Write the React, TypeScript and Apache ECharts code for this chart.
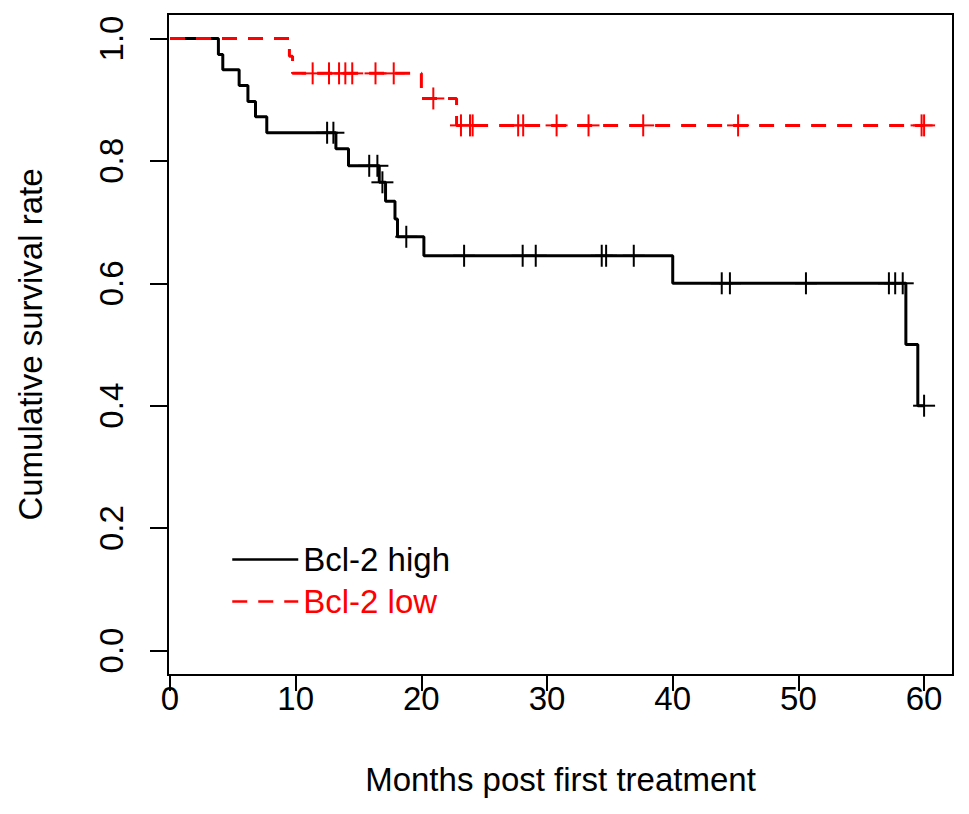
import React, { useEffect, useRef } from "react";
import * as echarts from "echarts";

// Kaplan–Meier step curves: time (months) and survival after each step
const highTimes = [0, 3.85, 4.2, 5.5, 6.2, 6.8, 7.7, 13.2, 14.2, 16.65, 17.15, 17.9, 18.1, 20.2, 40.0, 58.55, 59.5, 60.0];
const highSurv = [1, 0.974, 0.949, 0.923, 0.897, 0.872, 0.846, 0.82, 0.792, 0.765, 0.734, 0.705, 0.676, 0.645, 0.6, 0.5, 0.4, 0.4];
const highCensorTimes = [12.5, 13.0, 15.85, 16.5, 16.9, 18.8, 23.4, 28.06, 29.1, 34.35, 34.7, 36.9, 43.9, 44.55, 50.6, 57.2, 57.7, 58.3, 60.0];
const highCensorSurv = [0.846, 0.846, 0.792, 0.792, 0.765, 0.676, 0.645, 0.645, 0.645, 0.645, 0.645, 0.645, 0.6, 0.6, 0.6, 0.6, 0.6, 0.6, 0.4];

const lowTimes = [0, 9.5, 9.75, 20.0, 22.8, 60.0];
const lowSurv = [1, 0.971, 0.943, 0.902, 0.858, 0.858];
const lowCensorTimes = [11.35, 12.65, 13.45, 13.95, 14.5, 16.35, 17.8, 20.95, 23.15, 23.87, 24.08, 27.7, 28.1, 30.76, 33.3, 37.65, 45.2, 59.8, 60.0];
const lowCensorSurv = [0.943, 0.943, 0.943, 0.943, 0.943, 0.943, 0.943, 0.902, 0.858, 0.858, 0.858, 0.858, 0.858, 0.858, 0.858, 0.858, 0.858, 0.858, 0.858];

const xTicks = [0, 10, 20, 30, 40, 50, 60];
const yTicks = [0, 0.2, 0.4, 0.6, 0.8, 1.0];

const seriesNames = ["Bcl-2 high", "Bcl-2 low"];
const xTitle = "Months post first treatment";
const yTitle = "Cumulative survival rate";

const FONT = "'Liberation Sans', Arial, Helvetica, sans-serif";
const BLACK = "#000000";
const RED = "#ff0000";

function zip(a: number[], b: number[]) {
  return a.map((v, i) => [v, b[i]]);
}

function censorSeries(name: string, data: number[][], color: string) {
  return {
    name,
    type: "custom",
    data,
    encode: { x: 0, y: 1 },
    silent: true,
    z: 3,
    renderItem: (params: any, api: any) => {
      const p = api.coord([api.value(0), api.value(1)]);
      const h = 11;
      const style = { stroke: color, lineWidth: 2 };
      return {
        type: "group",
        children: [
          { type: "line", shape: { x1: p[0] - h, y1: p[1], x2: p[0] + h, y2: p[1] }, style },
          { type: "line", shape: { x1: p[0], y1: p[1] - h, x2: p[0], y2: p[1] + h }, style },
        ],
      };
    },
  };
}

export default function App() {
  const ref = useRef<HTMLDivElement>(null);

  useEffect(() => {
    if (!ref.current) return;
    const chart = echarts.init(ref.current, undefined, { renderer: "svg" });
    chart.setOption({
      animation: false,
      backgroundColor: "#ffffff",
      grid: {
        left: 168,
        right: 16,
        top: 14,
        bottom: 139,
        show: true,
        borderColor: BLACK,
        borderWidth: 2,
        backgroundColor: "transparent",
      },
      legend: {
        orient: "vertical",
        left: 226,
        top: 538,
        itemWidth: 66,
        itemHeight: 20,
        itemGap: 9,
        selectedMode: false,
        itemStyle: { opacity: 0 },
        lineStyle: { width: 2.5 },
        textStyle: { fontFamily: FONT, fontSize: 33, color: BLACK, padding: [0, 0, 0, 0] },
        data: [
          { name: seriesNames[0], textStyle: { color: BLACK } },
          { name: seriesNames[1], textStyle: { color: RED } },
        ],
      },
      xAxis: {
        type: "value",
        min: -0.16,
        max: 62.3,
        name: xTitle,
        nameLocation: "middle",
        nameGap: 88,
        nameTextStyle: { fontFamily: FONT, fontSize: 33, color: BLACK },
        axisLine: { show: false, onZero: false },
        splitLine: { show: false },
        axisTick: {
          show: true,
          inside: false,
          length: 16,
          customValues: xTicks,
          lineStyle: { color: BLACK, width: 2 },
        },
        axisLabel: {
          customValues: xTicks,
          fontFamily: FONT,
          fontSize: 33,
          color: BLACK,
          margin: 7,
          formatter: (v: number) => String(Math.round(v)),
        },
      },
      yAxis: {
        type: "value",
        min: -0.04,
        max: 1.04,
        name: yTitle,
        nameLocation: "middle",
        nameRotate: 90,
        nameGap: 121,
        nameTextStyle: { fontFamily: FONT, fontSize: 33, color: BLACK },
        axisLine: { show: false, onZero: false },
        splitLine: { show: false },
        axisTick: {
          show: true,
          inside: false,
          length: 18,
          customValues: yTicks,
          lineStyle: { color: BLACK, width: 2 },
        },
        axisLabel: {
          customValues: yTicks,
          rotate: 90,
          fontFamily: FONT,
          fontSize: 33,
          color: BLACK,
          margin: 40,
          formatter: (v: number) => v.toFixed(1),
        },
      },
      series: [
        {
          name: seriesNames[0],
          type: "line",
          step: "end",
          data: zip(highTimes, highSurv),
          symbol: "none",
          lineStyle: { color: BLACK, width: 3 },
          itemStyle: { color: BLACK },
          z: 2,
        },
        censorSeries("high-censor", zip(highCensorTimes, highCensorSurv), BLACK),
        {
          name: seriesNames[1],
          type: "line",
          step: "end",
          data: zip(lowTimes, lowSurv),
          symbol: "none",
          lineStyle: { color: RED, width: 3, type: [15, 11] },
          itemStyle: { color: RED },
          z: 4,
        },
        censorSeries("low-censor", zip(lowCensorTimes, lowCensorSurv), RED),
      ],
    });
    return () => chart.dispose();
  }, []);

  return (
    <div
      ref={ref}
      style={{ position: "fixed", left: 0, top: 0, width: 969, height: 814, background: "#fff" }}
    />
  );
}
